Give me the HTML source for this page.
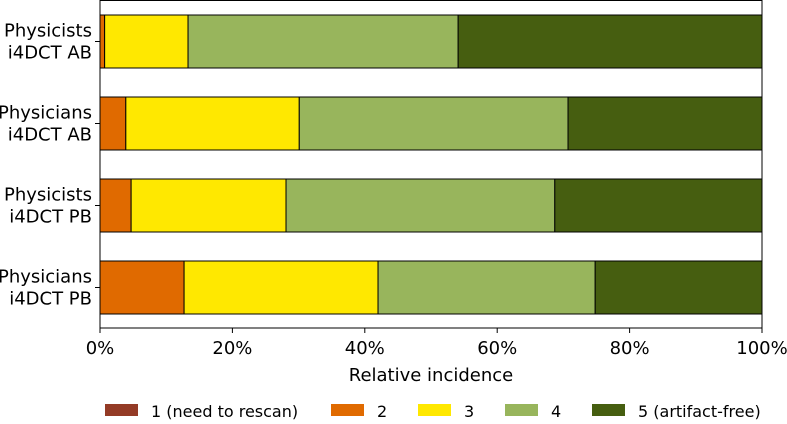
<!DOCTYPE html>
<html><head><meta charset="utf-8"><style>
body{margin:0;background:#fff;width:787px;height:420px;overflow:hidden;font-family:"DejaVu Sans","Liberation Sans",sans-serif}
</style></head><body>
<svg id="c" width="787" height="420" font-family="DejaVu Sans, Liberation Sans, sans-serif"></svg>
<script>
const categories=["Physicists\ni4DCT AB","Physicians\ni4DCT AB","Physicists\ni4DCT PB","Physicians\ni4DCT PB"];
const s1=[0,0,0,0];
const s2=[0.7,3.9,4.7,12.7];
const s3=[12.6,26.2,23.4,29.3];
const s4=[40.8,40.6,40.6,32.8];
const s5=[45.9,29.3,31.3,25.2];
const seriesNames=["1 (need to rescan)","2","3","4","5 (artifact-free)"];
const colors=["#943b26","#e06a00","#ffe800","#98b55c","#465e10"];
const ticks=[0,20,40,60,80,100];
const tickLabels=["0%","20%","40%","60%","80%","100%"];
const svg=document.getElementById('c');const NS="http://www.w3.org/2000/svg";
function mk(t,a,p){const e=document.createElementNS(NS,t);for(const k in a)e.setAttribute(k,a[k]);(p||svg).appendChild(e);return e;}
const x0=100,x1=762,yTop=0,yBot=328;
const X=v=>x0+(x1-x0)*v/100;
const Y=i=>41.5+i*82;const bh=53;
const series=[s1,s2,s3,s4,s5];
categories.forEach((c,i)=>{let cum=0;
 series.forEach((s,j)=>{const v=s[i];
  if(v>0){const r=mk('rect',{x:X(cum),y:Y(i)-bh/2,width:X(cum+v)-X(cum),height:bh,fill:colors[j],stroke:'#000','stroke-width':1});
  
  }
  cum+=v;});
 const lines=c.split("\n");
 lines.forEach((l,k)=>{const t=mk('text',{x:92,y:Y(i)-5+k*22,'text-anchor':'end','font-size':18,fill:'#000'});t.textContent=l;
  
  });
 mk('line',{x1:95,x2:100,y1:Y(i),y2:Y(i),stroke:'#000'});
});
const fr=mk('rect',{x:x0,y:yTop+0.5,width:x1-x0,height:yBot-yTop-0.5,fill:'none',stroke:'#000','stroke-width':1});


ticks.forEach((v,i)=>{mk('line',{x1:X(v),x2:X(v),y1:yBot,y2:yBot+5,stroke:'#000'});
 const t=mk('text',{x:X(v),y:yBot+26,'text-anchor':'middle','font-size':18});t.textContent=tickLabels[i];
 
 });
const xl=mk('text',{x:431,y:381,'text-anchor':'middle','font-size':18});xl.textContent="Relative incidence";


const lx=[105,331,418,505,592];
seriesNames.forEach((n,j)=>{
 const g=mk('g',{});
 
 
 mk('rect',{x:lx[j],y:404,width:33,height:12,fill:colors[j]},g);
 const t=mk('text',{x:lx[j]+46,y:417,'font-size':16},g);t.textContent=n;});
</script>
</body></html>
